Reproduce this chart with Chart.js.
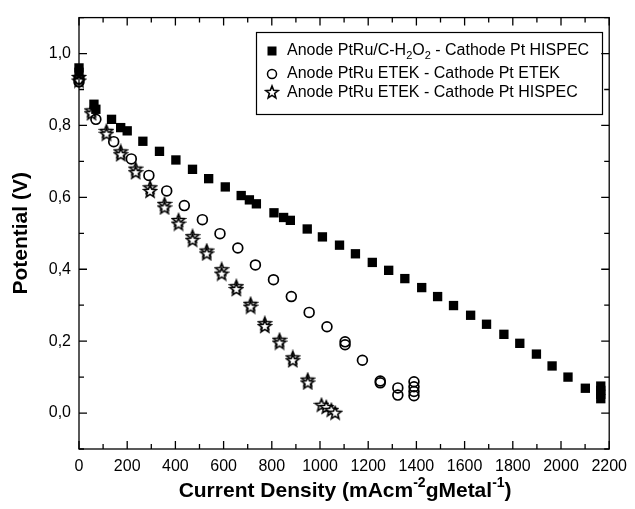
<!DOCTYPE html>
<html><head><meta charset="utf-8">
<script src="https://cdn.jsdelivr.net/npm/chart.js@4/dist/chart.umd.min.js"></script>
<style>html,body{margin:0;padding:0;background:#fff}#wrap{width:635px;height:509px}</style>
</head><body><div id="wrap"><canvas id="c" width="635" height="509"></canvas></div>
<script>
// ---- data ----
const seriesNames = [
  ["Anode PtRu/C-H", {sub:"2"}, "O", {sub:"2"}, " - Cathode Pt HISPEC"],
  ["Anode PtRu ETEK - Cathode Pt ETEK"],
  ["Anode PtRu ETEK - Cathode Pt HISPEC"]
];
const hispecX = [0,0,62,70,135,173,200,265,334,402,471,538,607,673,707,736,809,849,877,947,1010,1081,1147,1217,1285,1352,1422,1488,1554,1625,1691,1763,1829,1898,1963,2029,2101,2165,2165,2165,2165];
const hispecY = [0.960,0.948,0.859,0.845,0.817,0.794,0.785,0.756,0.728,0.704,0.678,0.652,0.629,0.605,0.593,0.582,0.557,0.544,0.536,0.512,0.490,0.467,0.443,0.419,0.397,0.374,0.349,0.324,0.299,0.272,0.247,0.219,0.194,0.164,0.131,0.100,0.069,0.075,0.063,0.052,0.040];
const etekX = [0,0,70,144,217,290,364,437,512,585,659,732,807,881,955,1029,1104,1104,1176,1250,1250,1323,1323,1390,1390,1390,1390];
const etekY = [0.930,0.921,0.817,0.755,0.707,0.661,0.618,0.577,0.538,0.499,0.459,0.412,0.371,0.324,0.280,0.240,0.198,0.190,0.147,0.089,0.084,0.070,0.050,0.087,0.073,0.060,0.048];
const starX = [0,0,52,52,114,114,173,173,235,235,295,295,355,355,413,413,471,471,530,530,592,592,653,653,712,712,771,771,832,832,887,887,949,949,1006,1026,1047,1063];
const starY = [0.935,0.925,0.842,0.834,0.785,0.777,0.728,0.720,0.680,0.670,0.628,0.618,0.582,0.572,0.537,0.527,0.492,0.482,0.452,0.444,0.400,0.388,0.353,0.345,0.304,0.296,0.250,0.242,0.204,0.196,0.155,0.147,0.093,0.085,0.023,0.017,0.009,0.001];
const xTickLabels = [0,200,400,600,800,1000,1200,1400,1600,1800,2000,2200];
const xMinorTicks = [100,300,500,700,900,1100,1300,1500,1700,1900,2100];
const yTickLabels = [0.0,0.2,0.4,0.6,0.8,1.0];
const yMinorTicks = [-0.1,0.1,0.3,0.5,0.7,0.9,1.1];
const yTitle = "Potential (V)";
const xTitleParts = ["Current Density (mAcm", {sup:"-2"}, "gMetal", {sup:"-1"}, ")"];

// ---- helpers ----
const FONT = '"Liberation Sans", Arial, Helvetica, sans-serif';
const pts = (xs, ys) => xs.map((x, i) => ({x, y: ys[i]}));

function makeStar() {
  const c = document.createElement('canvas');
  c.width = 16; c.height = 16;
  const g = c.getContext('2d');
  g.beginPath();
  for (let i = 0; i < 10; i++) {
    const r = i % 2 ? 2.8 : 6.5;
    const a = -Math.PI / 2 + i * Math.PI / 5;
    g.lineTo(8 + r * Math.cos(a), 8.6 + r * Math.sin(a));
  }
  g.closePath();
  g.fillStyle = '#fff'; g.fill();
  g.lineWidth = 1.6; g.strokeStyle = '#000'; g.lineJoin = 'miter'; g.stroke();
  return c;
}
const starImg = makeStar();

function drawRich(ctx, parts, x, y, size, bold, align) {
  const base = (bold ? 'bold ' : '') + size + 'px ' + FONT;
  const small = (bold ? 'bold ' : '') + Math.round(size * 0.68) + 'px ' + FONT;
  let w = 0;
  parts.forEach(p => {
    if (typeof p === 'string') { ctx.font = base; w += ctx.measureText(p).width; }
    else { ctx.font = small; w += ctx.measureText(p.sub || p.sup).width; }
  });
  let cx = align === 'center' ? x - w / 2 : x;
  ctx.textAlign = 'left'; ctx.textBaseline = 'middle';
  parts.forEach(p => {
    if (typeof p === 'string') { ctx.font = base; ctx.fillText(p, cx, y); cx += ctx.measureText(p).width; }
    else {
      ctx.font = small;
      const t = p.sub || p.sup;
      const dy = p.sub ? size * 0.33 : -size * 0.36;
      ctx.fillText(t, cx, y + dy); cx += ctx.measureText(t).width;
    }
  });
}

const framePlugin = {
  id: 'frame',
  afterDatasetsDraw(chart) {
    const {ctx, chartArea: a, scales: {x, y}} = chart;
    ctx.save();
    ctx.strokeStyle = '#000'; ctx.lineWidth = 1.3;
    ctx.strokeRect(a.left, a.top, a.right - a.left, a.bottom - a.top);
    ctx.beginPath();
    const tx = (v, len) => { const p = x.getPixelForValue(v);
      ctx.moveTo(p, a.bottom); ctx.lineTo(p, a.bottom - len);
      ctx.moveTo(p, a.top); ctx.lineTo(p, a.top + len); };
    const ty = (v, len) => { const p = y.getPixelForValue(v);
      ctx.moveTo(a.left, p); ctx.lineTo(a.left + len, p);
      ctx.moveTo(a.right, p); ctx.lineTo(a.right - len, p); };
    xTickLabels.forEach(v => tx(v, 8)); xMinorTicks.forEach(v => tx(v, 5));
    yTickLabels.forEach(v => ty(v, 8)); yMinorTicks.forEach(v => ty(v, 5));
    ctx.stroke();

    // axis titles
    ctx.fillStyle = '#000';
    drawRich(ctx, xTitleParts, (a.left + a.right) / 2 + 1, 491, 21, true, 'center');
    ctx.save();
    ctx.translate(21, (a.top + a.bottom) / 2);
    ctx.rotate(-Math.PI / 2);
    drawRich(ctx, [yTitle], 0, 0, 21, true, 'center');
    ctx.restore();

    // legend
    ctx.lineWidth = 1.2;
    ctx.strokeRect(256.5, 32.5, 346, 82);
    const rows = [51, 74, 92.5];
    ctx.fillStyle = '#000';
    ctx.fillRect(267.5, rows[0] - 4.5, 9, 9);
    ctx.beginPath(); ctx.arc(272, rows[1], 4.5, 0, Math.PI * 2);
    ctx.lineWidth = 1.5; ctx.stroke();
    ctx.drawImage(starImg, 272 - 8, rows[2] - 8.6);
    ctx.fillStyle = '#000';
    seriesNames.forEach((parts, i) => drawRich(ctx, parts, 287, rows[i], 16, false, 'left'));
    ctx.restore();
  }
};

new Chart(document.getElementById('c'), {
  type: 'scatter',
  data: {
    datasets: [
      { label: 'Anode PtRu/C-H2O2 - Cathode Pt HISPEC', data: pts(hispecX, hispecY),
        pointStyle: 'rect', pointRadius: 6.6, backgroundColor: '#000', borderColor: '#000', borderWidth: 0, clip: false },
      { label: 'Anode PtRu ETEK - Cathode Pt ETEK', data: pts(etekX, etekY),
        pointStyle: 'circle', pointRadius: 4.9, backgroundColor: 'rgba(255,255,255,0)', borderColor: '#000', borderWidth: 1.7, clip: false },
      { label: 'Anode PtRu ETEK - Cathode Pt HISPEC', data: pts(starX, starY),
        pointStyle: starImg, pointRadius: 7, backgroundColor: '#fff', borderColor: '#000', clip: false }
    ]
  },
  options: {
    responsive: false, animation: false, devicePixelRatio: 1,
    layout: { padding: { top: 15, right: 22, left: 0, bottom: 0 } },
    plugins: { legend: { display: false }, tooltip: { enabled: false } },
    scales: {
      x: {
        type: 'linear', min: 0, max: 2200,
        grid: { display: false, drawTicks: false }, border: { display: false },
        afterBuildTicks: s => { s.ticks = xTickLabels.map(v => ({value: v})); },
        afterFit: s => { s.height = 60; },
        ticks: { color: '#000', font: { family: FONT, size: 16 }, padding: 8, maxRotation: 0, autoSkip: false,
          callback: v => String(v) }
      },
      y: {
        type: 'linear', min: -0.1, max: 1.1,
        grid: { display: false, drawTicks: false }, border: { display: false },
        afterBuildTicks: s => { s.ticks = yTickLabels.map(v => ({value: v})); },
        afterFit: s => { s.width = 79; },
        ticks: { color: '#000', font: { family: FONT, size: 16 }, padding: 8, autoSkip: false,
          callback: v => Number(v).toFixed(1).replace('.', ',') }
      }
    }
  },
  plugins: [framePlugin]
});
</script></body></html>
